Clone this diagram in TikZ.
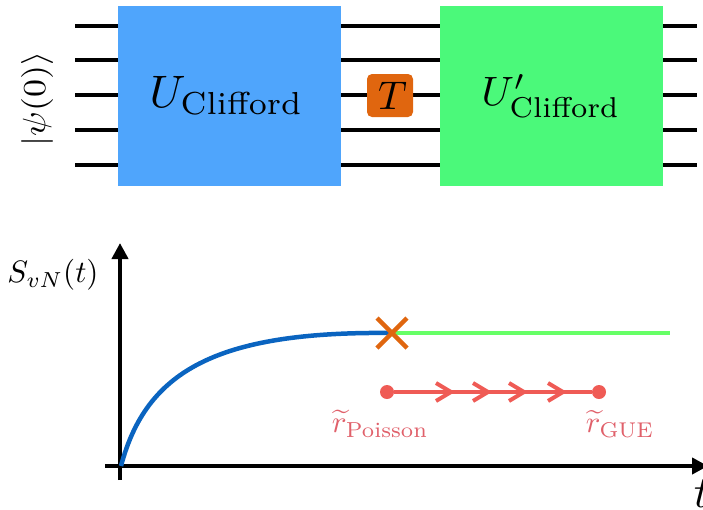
\documentclass[tikz,border=0pt]{standalone}
\usepackage{amsmath}
\usetikzlibrary{arrows.meta}
\definecolor{bluebox}{HTML}{4FA5FC}
\definecolor{greenbox}{HTML}{4BF97A}
\definecolor{tbox}{HTML}{E0660F}
\definecolor{curveblue}{HTML}{0A64C0}
\definecolor{linegreen}{HTML}{66FF66}
\definecolor{redline}{HTML}{EF5B55}
\definecolor{redtext}{HTML}{E0606A}
\tikzset{
  wire/.style={line width=4pt,black},
  gatebox/.style={draw=none,minimum width=223pt,minimum height=180pt,inner sep=0pt,anchor=north west},
  axis/.style={line width=4pt,black,-{Triangle[length=16pt,width=16pt]}},
  dotmark/.style={circle,fill=redline,minimum size=14pt,inner sep=0pt},
  chev/.style={line width=4pt,redline,line join=miter},
}
\begin{document}
\begin{tikzpicture}[x=1pt,y=-1pt]
\useasboundingbox (0,0) rectangle (703,509);
\foreach \i/\y in {1/26,2/60,3/95,4/130,5/165}{
  \coordinate (a\i) at (75,\y);
  \coordinate (b\i) at (697,\y);
  \draw[wire] (a\i) -- (b\i);
}
\node[gatebox,fill=bluebox] (blue) at (118,6) {};
\node[gatebox,fill=greenbox] (green) at (440,6) {};
\node[scale=4.55] (ulabel) at (226.5,96) {$U_{\text{Clifford}}$};
\node[scale=4.1] (uplabel) at (551,96) {$U'_{\text{Clifford}}$};
\node[fill=tbox,rounded corners=5pt,minimum width=46pt,minimum height=43pt,inner sep=0pt] (T) at (390,95.5) {};
\node[scale=4.0] (Tl) at (392.5,96) {$T$};
\node[xscale=3.2,yscale=3.6,rotate=90] (psi) at (37,99) {$|\psi(0)\rangle$};
\coordinate (ybot) at (120,480);
\coordinate (ytop) at (120,243);
\coordinate (xl) at (105,466);
\coordinate (xr) at (708,466);
\draw[axis] (ybot) -- (ytop);
\draw[axis] (xl) -- (xr);
\node[scale=3.1] (S) at (53,275) {$S_{vN}(t)$};
\node[scale=4.55] (tl) at (702,493) {$t$};
\coordinate (o) at (121,466);
\coordinate (k) at (392,333);
\coordinate (e) at (670,334);
\draw[line width=4pt,linegreen] (k) -- (e |- k);
\draw[line width=4.5pt,curveblue] (o) .. controls (146,372) and (215,331) .. (k);
\coordinate (c1) at (377,318); \coordinate (c2) at (407,348);
\coordinate (c3) at (377,348); \coordinate (c4) at (407,318);
\draw[line width=4.5pt,tbox] (c1) -- (c2) (c3) -- (c4);
\node[dotmark] (p) at (387,392) {};
\node[dotmark] (g) at (599,392) {};
\draw[line width=4pt,redline] (p) -- (g);
\foreach \x in {451,488,524,563}{
  \draw[chev] (\x-15,383) -- (\x,392) -- (\x-15,401);
}
\node[scale=3.1,text=redtext,anchor=west] (rp) at (321,424) {$\widetilde{r}_{\text{Poisson}}$};
\node[scale=3.05,text=redtext,anchor=west] (rg) at (575,424) {$\widetilde{r}_{\text{GUE}}$};
\end{tikzpicture}
\end{document}
